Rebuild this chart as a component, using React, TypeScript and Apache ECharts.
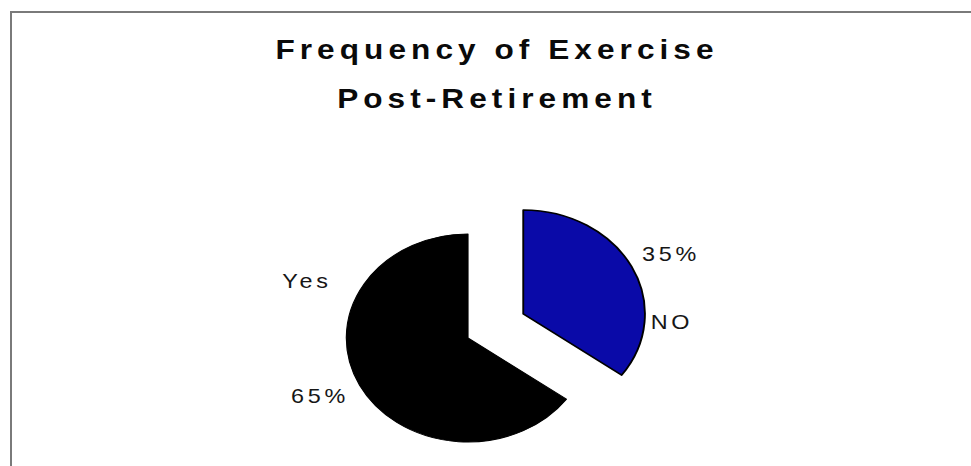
import React, { useEffect, useRef } from "react";
import * as echarts from "echarts";

// ---- data ----
const titleText = "Frequency of Exercise\nPost-Retirement";
const categories = ["NO", "Yes"];
const values = [35, 65];
const sliceColors = ["#0a0aa8", "#000000"];
const explodedSlice = "NO";

// ---- layout (the reference is stretched horizontally) ----
const STRETCH = 1.17;
const W = 971;
const H = 466;
const LW = Math.round(W / STRETCH);
const sx = (x: number) => x / STRETCH;

const labelPositions: Record<string, { name: [number, number]; pct: [number, number] }> = {
  NO: { name: [672, 322], pct: [671, 254] },
  Yes: { name: [307, 281], pct: [320, 396] },
};

export default function App() {
  const ref = useRef<HTMLDivElement>(null);

  useEffect(() => {
    if (!ref.current) return;
    const chart = echarts.init(ref.current, null, { renderer: "svg", width: LW, height: H });
    const total = values.reduce((a, b) => a + b, 0);
    const pctText = values.map((v) => Math.round((v / total) * 100) + "%");

    const labelFont = {
      fontSize: 20,
      fontFamily: "'Liberation Sans', Arial, sans-serif",
      fill: "#161616",
    };

    const labelGraphics: any[] = [];
    categories.forEach((c, i) => {
      const p = labelPositions[c];
      labelGraphics.push({
        type: "text",
        x: sx(p.name[0]),
        y: p.name[1],
        silent: true,
        style: { ...labelFont, text: c, textAlign: "center", textVerticalAlign: "middle" },
      });
      labelGraphics.push({
        type: "text",
        x: sx(p.pct[0]),
        y: p.pct[1],
        silent: true,
        style: { ...labelFont, text: pctText[i], textAlign: "center", textVerticalAlign: "middle" },
      });
    });

    chart.setOption({
      animation: false,
      title: {
        text: titleText,
        left: sx(497) - 5,
        top: 20,
        textAlign: "center",
        textStyle: {
          fontSize: 27,
          fontWeight: "bold",
          fontFamily: "'Liberation Sans', Arial, sans-serif",
          color: "#0a0a0a",
          lineHeight: 49,
        },
      },
      graphic: labelGraphics,
      series: [
        {
          type: "pie",
          center: [sx(468), 338],
          radius: 104,
          startAngle: 90,
          clockwise: true,
          selectedMode: "single",
          selectedOffset: 53,
          silent: true,
          label: { show: false },
          labelLine: { show: false },
          emphasis: { disabled: true },
          data: categories.map((c, i) => ({
            name: c,
            value: values[i],
            selected: c === explodedSlice,
            itemStyle: {
              color: sliceColors[i],
              borderColor: "#000000",
              borderWidth: c === explodedSlice ? 1.6 : 1,
            },
          })),
        },
      ],
    });

    return () => chart.dispose();
  }, []);

  return (
    <div
      style={{
        position: "fixed",
        left: 0,
        top: 0,
        width: W,
        height: H,
        overflow: "hidden",
        background: "#ffffff",
      }}
    >
      <style>{`#exercise-chart text { letter-spacing: 0.16em; }`}</style>
      <div
        style={{
          position: "absolute",
          left: 10,
          top: 11,
          width: W,
          height: H,
          borderTop: "2px solid #7a7a7a",
          borderLeft: "2px solid #7a7a7a",
          boxSizing: "border-box",
        }}
      />
      <div
        id="exercise-chart"
        ref={ref}
        style={{
          position: "absolute",
          left: 0,
          top: 0,
          width: LW,
          height: H,
          transform: `scaleX(${STRETCH})`,
          transformOrigin: "0 0",
        }}
      />
    </div>
  );
}
